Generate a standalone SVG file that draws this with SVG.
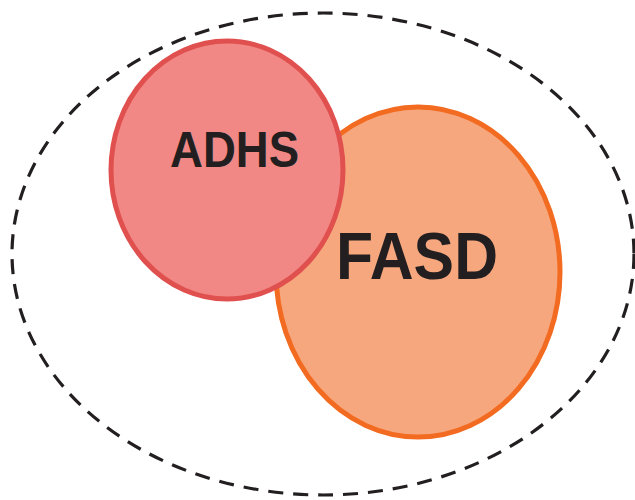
<svg xmlns="http://www.w3.org/2000/svg" width="635" height="500" viewBox="0 0 635 500">
<style>
.lbl{font-family:"Liberation Sans",Arial,sans-serif;font-weight:bold;fill:#231F20}
</style>
<rect width="635" height="500" fill="#ffffff"/>
<g id="scope">
<ellipse cx="323" cy="254" rx="311" ry="241" fill="none" stroke="#231F20" stroke-width="3.2" stroke-dasharray="15 10"/>
</g>
<g id="fasd">
<ellipse cx="418" cy="272" rx="142" ry="165" fill="#F6A77E" stroke="#F26B21" stroke-width="5"/>
</g>
<g id="adhs">
<ellipse cx="227" cy="170" rx="116" ry="129" fill="#F18885" stroke="#E0504E" stroke-width="5"/>
<text class="lbl" x="170" y="167" font-size="50" textLength="129" lengthAdjust="spacingAndGlyphs">ADHS</text>
</g>
<g id="fasd-label">
<text class="lbl" x="336" y="279" font-size="66" textLength="162" lengthAdjust="spacingAndGlyphs">FASD</text>
</g>
</svg>
